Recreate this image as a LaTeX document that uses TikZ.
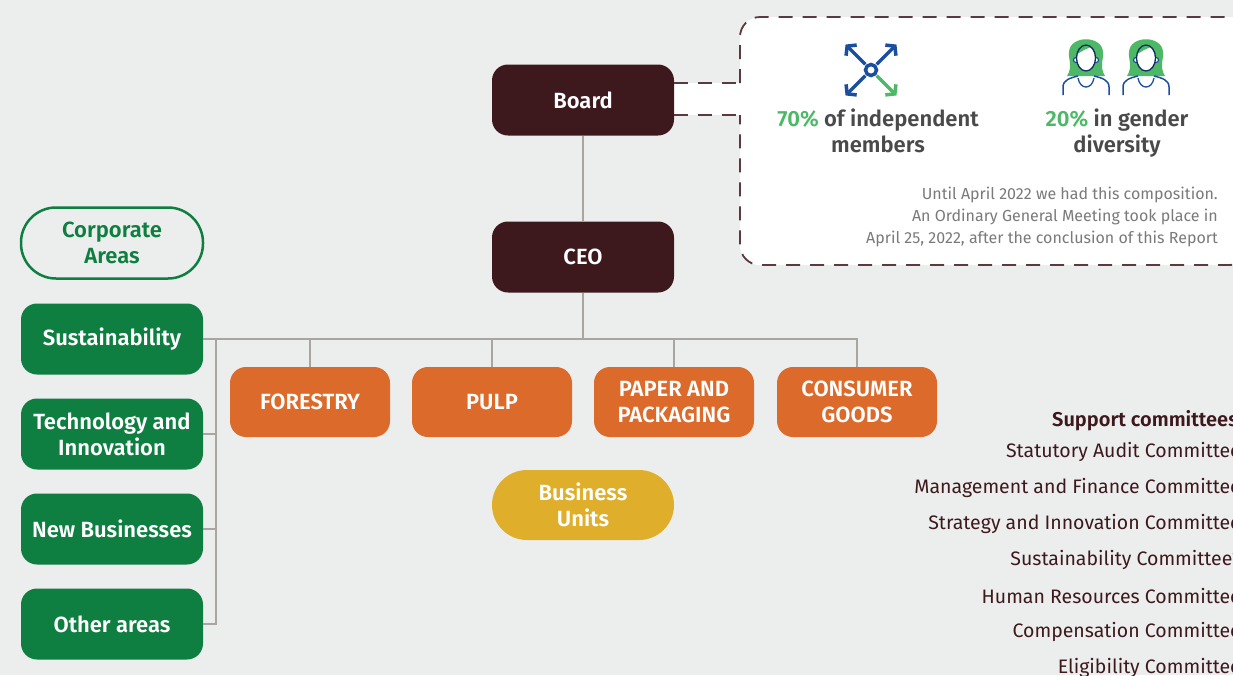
\documentclass[tikz,border=0pt]{standalone}
\usepackage{fontspec}
\setmainfont{Fira Sans}[BoldFont={Fira Sans SemiBold}]
\usepackage{xcolor}
\usetikzlibrary{positioning, arrows.meta}
\definecolor{sfondo}{HTML}{ECEEED}
\definecolor{bordeaux}{HTML}{3D191E}
\definecolor{verde}{HTML}{0E7F41}
\definecolor{arancio}{HTML}{DC6A2A}
\definecolor{oro}{HTML}{DFAE2A}
\definecolor{grigio}{HTML}{A9A6A1}
\definecolor{testo}{HTML}{4A4A4A}
\definecolor{grigionota}{HTML}{7A7A7A}
\definecolor{blu}{HTML}{1A4F9F}
\definecolor{verdechiaro}{HTML}{4DB866}
\definecolor{tratteggio}{HTML}{5A3A3E}
\tikzset{
    box/.style={rounded corners=16pt, minimum width=182pt, minimum height=71pt, align=center, text=white, inner sep=2pt, font=\fontsize{22}{26}\selectfont\bfseries}, % stile comune dei riquadri
    vertice/.style={box, fill=bordeaux},
    area/.style={box, fill=verde},
    unita/.style={box, fill=arancio, minimum width=160pt, minimum height=70pt},
    pillola/.style={box, rounded corners=35pt},
    stat/.style={align=center, text=testo, font=\fontsize{22}{26}\selectfont\bfseries},
    nota/.style={align=right, text=grigionota, anchor=east, inner sep=0pt, font=\fontsize{16}{22}\selectfont},
    comitato/.style={anchor=east, inner sep=0pt, text=bordeaux, font=\fontsize{19.5}{22}\selectfont},
}
\tikzstyle{linea} = [grigio, line width=2.5pt]
\tikzstyle{bordo} = [tratteggio, line width=1.8pt, dash pattern=on 14pt off 10pt]
\tikzstyle{icona} = [blu, line width=3.5pt, -{Straight Barb[length=6pt, width=15pt]}]

\begin{document}
\begin{tikzpicture}
                [x=1pt, y=-1pt, node distance=95pt, on grid]
                \useasboundingbox (0,0) rectangle (1233,675);
                \clip (0,0) rectangle (1233,675);
                \fill[sfondo] (0,0) rectangle (1233,675);

                % Riquadro del consiglio
                \coordinate (tabtop) at (740,83);
                \coordinate (tabbot) at (740,115);
                \fill[white, rounded corners=20pt] (740,17) rectangle (1250,265);
                \fill[white] (660,83) rectangle (742,115);
                \draw[bordo, rounded corners=20pt] (tabtop) -- (740,17) -- (1250,17) -- (1250,265) -- (740,265) -- (tabbot);

                % Vertici
                \node[vertice] (board) at (583,100) {Board};
                \node[vertice] (ceo) [below=157pt of board] {CEO};

                % Aree corporate
                \node[area] (sust) at (112,339) {Sustainability};
                \node[area] (tech) [below=of sust] {Technology and\\Innovation};
                \node[area] (newb) [below=of tech] {New Businesses};
                \node[area] (other) [below=of newb] {Other areas};
                \node[pillola, draw=verde, line width=2.5pt, fill=sfondo, text=verde, minimum height=71pt] (corp) [above=96pt of sust] {Corporate\\Areas};

                % Unita di business
                \node[unita] (forestry) at (310,402) {FORESTRY};
                \node[unita] (pulp) [right=182pt of forestry] {PULP};
                \node[unita] (paper) [right=182pt of pulp] {PAPER AND\\PACKAGING};
                \node[unita] (consumer) [right=183pt of paper] {CONSUMER\\GOODS};
                \node[pillola, fill=oro, minimum height=70pt] (bu) [below=248pt of ceo] {Business\\Units};

                % Collegamenti
                \draw[bordo] (board.east |- tabtop) -- (tabtop);
                \draw[bordo] (board.east |- tabbot) -- (tabbot);
                \draw[linea] (board) -- (ceo);
                \draw[linea] (ceo.south) -- (ceo.south |- sust.east);
                \draw[linea] (sust.east) -- (consumer.north |- sust.east) -- (consumer.north);
                \foreach \n in {forestry, pulp, paper}
                    \draw[linea] (\n.north) -- (\n.north |- sust.east);
                \coordinate (spine) at (216,339);
                \draw[linea] (spine) -- (spine |- other.east) -- (other.east);
                \foreach \n in {tech, newb}
                    \draw[linea] (\n.east) -- (spine |- \n.east);

                % Icone
                \draw[blu, line width=3.5pt] (871,70) circle (5.5pt);
                \foreach \a in {45,135,225}
                    \draw[icona] (871,70) ++(\a:8pt) -- ++(\a:28pt);
                \draw[icona, verdechiaro] (871,70) ++(315:8pt) -- ++(315:28pt);
                \foreach \cx in {1086,1146} {
                    \fill[verdechiaro] (\cx-19,76) .. controls (\cx-13,67) and (\cx-18,58) .. (\cx-17,52)
                        .. controls (\cx-16,35) and (\cx+16,35) .. (\cx+17,52)
                        .. controls (\cx+18,58) and (\cx+13,67) .. (\cx+19,76) -- cycle;
                    \filldraw[fill=white, draw=blu, line width=1.2pt] (\cx-10,60) circle (2.5pt) (\cx+10,60) circle (2.5pt);
                    \fill[white] (\cx,58) ellipse (9.5pt and 13pt);
                    \begin{scope}
                        \clip (\cx,58) ellipse (9.5pt and 13pt);
                        \fill[verdechiaro] (\cx-12,56) -- (\cx-2,50) -- (\cx+12,44) -- (\cx+12,40) -- (\cx-12,40) -- cycle;
                    \end{scope}
                    \draw[blu!60!black, line width=1.3pt] (\cx,58) ellipse (9.5pt and 13pt);
                    \draw[blu, line width=1.5pt] (\cx-23,95) -- (\cx-23,87) .. controls (\cx-23,80) and (\cx-16,78) .. (\cx-8,76);
                    \draw[blu, line width=1.5pt] (\cx+23,95) -- (\cx+23,87) .. controls (\cx+23,80) and (\cx+16,78) .. (\cx+8,76);
                    \draw[blu, line width=1.3pt] (\cx-8,78) .. controls (\cx-6,90) and (\cx+6,90) .. (\cx+8,78);
                }

                % Testi
                \node[stat] (indip) at (878,131) {\textcolor{verdechiaro}{70\%} of independent\\members};
                \node[stat] (genere) at (1117,133) {\textcolor{verdechiaro}{20\%} in gender\\diversity};
                \node[nota] (nota) at (1218,217) {Until April 2022 we had this composition.\\An Ordinary General Meeting took place in\\April 25, 2022, after the conclusion of this Report};

                % Comitati
                \node[comitato, font=\fontsize{20}{22}\selectfont\bfseries] (supporto) at (1238,421) {Support committees};
                \foreach \c [count=\i] in {Statutory Audit Committee, Management and Finance Committee,
                    Strategy and Innovation Committee, Sustainability Committee*, Human Resources Committee,
                    Compensation Committee, Eligibility Committee}
                    \node[comitato] (c\i) at (1241,416+36*\i) {\c};
            \end{tikzpicture}
\end{document}
